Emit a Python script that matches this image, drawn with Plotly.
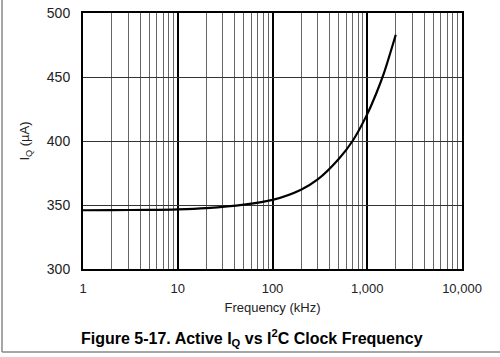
import plotly.graph_objects as go

# Data
freq_khz = [1, 2, 5, 10, 20, 50, 100, 200, 300, 500, 700, 1000, 1250, 1500, 2000]
iq_ua = [345.9, 346.0, 346.2, 346.6, 347.6, 350.3, 354.0, 362.0, 370.0,
         386.0, 400.0, 421.0, 437.5, 453.0, 483.0]

x_tickvals = [1, 10, 100, 1000, 10000]
x_ticktext = ["1", "10", "100", "1,000", "10,000"]
y_tickvals = [300, 350, 400, 450, 500]

W, H = 500, 357
L, R, T, B = 83, 38, 13, 88
pw, ph = W - L - R, H - T - B

def px_x(p):
    return (p - L) / pw

def px_y(p):
    return (H - B - p) / ph

fig = go.Figure()
fig.add_trace(go.Scatter(
    x=freq_khz, y=iq_ua, mode="lines",
    line=dict(color="black", width=2.2, shape="spline", smoothing=0.8),
    showlegend=False, hoverinfo="skip",
))

font_fam = "Liberation Sans, Arial, sans-serif"

fig.update_layout(
    width=W, height=H,
    margin=dict(l=L, r=R, t=T, b=B, autoexpand=False),
    paper_bgcolor="white", plot_bgcolor="white",
    font=dict(family=font_fam, size=13, color="#222"),
    xaxis=dict(
        type="log", range=[0, 4], automargin=False,
        tickmode="array", tickvals=x_tickvals, ticktext=x_ticktext,
        showgrid=True, gridcolor="black", gridwidth=2,
        showline=True, linecolor="black", linewidth=2, mirror=True,
        ticks="outside", ticklen=6, tickcolor="rgba(0,0,0,0)",
        tickfont=dict(size=13, color="#222"),
        minor=dict(dtick="D1", showgrid=True, gridcolor="#666", gridwidth=1, ticks=""),
        title=dict(text="Frequency (kHz)", font=dict(size=13, color="#222"), standoff=8),
        zeroline=False,
    ),
    yaxis=dict(
        range=[300, 500], automargin=False,
        tickmode="array", tickvals=y_tickvals,
        showgrid=True, gridcolor="#333", gridwidth=1,
        showline=True, linecolor="black", linewidth=2, mirror=True,
        ticks="outside", ticklen=8, tickcolor="rgba(0,0,0,0)",
        tickfont=dict(size=14, color="#222"),
        title=dict(text="I<sub>Q</sub> (µA)", font=dict(size=13, color="#222"), standoff=14),
        zeroline=False,
    ),
    annotations=[
        dict(
            text="<b>Figure 5-17. Active I<sub>Q</sub> vs I<sup>2</sup>C Clock Frequency</b>",
            xref="paper", yref="paper", x=px_x(252), y=px_y(338),
            xanchor="center", yanchor="middle", showarrow=False,
            font=dict(size=16, color="black", family=font_fam),
        )
    ],
    shapes=[
        dict(type="line", xref="paper", yref="paper",
             x0=px_x(2), x1=px_x(2), y0=px_y(0), y1=px_y(352),
             line=dict(color="#888", width=1.5)),
        dict(type="line", xref="paper", yref="paper",
             x0=px_x(2), x1=px_x(500), y0=px_y(352), y1=px_y(352),
             line=dict(color="#888", width=1.5)),
    ],
)

fig.write_html(
    "out.html",
    config={"displayModeBar": False, "staticPlot": True},
    post_script="document.body.style.margin='0';document.body.style.overflow='hidden';",
)
